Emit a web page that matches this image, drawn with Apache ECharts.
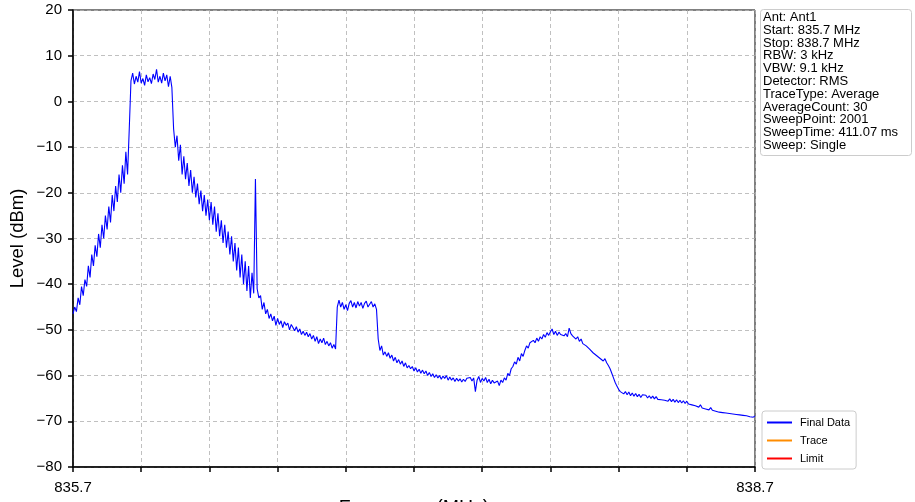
<!DOCTYPE html>
<html>
<head>
<meta charset="utf-8">
<script src="https://cdn.jsdelivr.net/npm/echarts@6/dist/echarts.min.js"></script>
<style>
html,body{margin:0;padding:0;background:#fff;}
#chart{width:915px;height:502px;}
</style>
</head>
<body>
<div id="chart"></div>
<script>
// Sweep definition
const START_MHZ = 835.7;
const STOP_MHZ = 838.7;
const STEP_MHZ = 0.0075;

// Level values (dBm), one per sweep step
const levelsRise = [-46.5,-45,-46,-43,-44.5,-40.5,-42.5,-39,-40.5,-36,-38.5,-33.5,-36,-31.5,-34,-29,-32,-27,-30,-25,-28,-23,-26.5,-20.5,-24,-18.5,-22,-16,-20,-14,-18,-11,-16,-6];
const levelsTop = [4.5,6.2,3.8,5.5,4.2,6.5,4.0,5.0,3.5,5.8,4.3,5.2,3.9,6.0,4.8,7.0,4.2,5.5,4.0,6.2,4.5,5.8,3.2,5.5,3.0];
const levelsFall = [-6,-10,-7.5,-13,-9.5,-16,-12,-17,-13.5,-18.5,-15,-20,-16.5,-21,-18,-22.5,-19.5,-24,-20.5,-25,-21.5,-26,-22,-27,-23,-28.5,-24.5,-29.5,-26,-31,-27,-32,-28.5,-33.5,-29.5,-35,-31,-37,-32,-38.5,-33.5,-40,-35,-41.5,-36,-43,-37.5,-42,-17,-41];
const levelsShoulder = [-43,-42.5,-45.5,-44,-46.5,-45.5,-47.5,-46.5,-48,-47,-49,-47.5,-48.8,-48,-49.5,-48.2,-49,-48.5,-50,-48.8,-49.5,-50.2,-49.3,-50.5,-49.8,-51,-50.3,-51.2,-50.5,-51.5,-50.8,-52,-51.2,-52.5,-51.5,-53,-52,-52.8,-51.8,-53.2,-52.5,-53.5,-52.8,-54,-53.2,-54.2];
const levelsCarrier2 = [-45,-43.5,-45,-44,-45.5,-44.5,-45.8,-44.2,-43.6,-45,-44,-45.2,-43.8,-44.8,-44,-45.3,-44.2,-43.7,-45,-44.4,-43.8,-45,-44.3,-45.5];
const levelsFloor = [-52,-54.5,-53.5,-55.5,-54.8,-55.8,-55,-56.2,-55.5,-56.8,-56,-57.2,-56.5,-57.5,-56.8,-58,-57.2,-58.3,-57.8,-58.5,-58,-59,-58.3,-59.2,-58.6,-59.5,-58.8,-59.6,-59,-60,-59.3,-60.2,-59.6,-60.4,-59.8,-60.5,-60,-60.8,-60.1,-60.6,-60,-61,-60.3,-61,-60.5,-61.3,-60.6,-61.2,-60.7,-61.4,-60.8,-61.3,-60.6,-61,-60.4,-61.2,-60.5,-63.5,-61,-60.2,-61.5,-60.6,-61.2,-60.4,-61.5,-60.8,-61.8,-61,-61.6,-62,-61.2,-62.2,-61,-61.5,-60.5,-61];
const levelsHump = [-59.5,-60,-58.5,-58,-57,-57.5,-56,-56.8,-55.2,-55.8,-54.5,-53.5,-54,-52.8,-53.2,-52.3,-52.8,-51.8,-52.5,-51.5,-52,-51,-51.6,-50.6,-51.2,-50.4,-49.8,-51,-50.3,-51.2,-50.5,-51,-50.6,-51.3,-50.8,-51.5,-49.6,-50.8,-51.3,-50.9,-52,-51.5,-52.5,-52,-53,-52.6,-53.5,-53.2,-54.2,-54,-55,-54.6,-55.6,-55.2,-56.2,-55.8,-56.8,-56.3,-57.2,-57.8,-58.5,-59.5];
const levelsTail = [-60.5,-61.5,-62.3,-63,-63.5,-63.2,-64,-63.5,-64.2,-63.6,-64.4,-63.8,-64.5,-63.9,-64.6,-64.1,-64.8,-64.2,-64.6,-64.3,-64.9,-64.4,-65,-64.5,-65.1,-64.6,-65.2,-64.8,-65.3,-64.9,-65.4,-65,-65.6,-65.1,-65.7,-65.2,-65.8,-65.3,-65.9,-65.4,-66,-65.5,-66.1,-65.6,-66.2,-65.8,-66.4,-66,-66.6,-66.2,-66.9,-66.4,-67.1,-66.7,-67.3,-66.9,-67.5,-67,-67.6,-67.2,-67.8,-67.4,-68,-67.6,-68.1,-67.7,-68.2,-67.8,-68.3,-67.9,-68.4,-68,-68.5,-68.1,-68.6,-68.2,-68.7,-68.3,-68.8,-68.5,-69,-68.6,-69.1,-68.8];

// Axis ticks
const yTicks = {min: -80, max: 20, interval: 10};
const xTicks = {min: START_MHZ, max: STOP_MHZ, interval: 0.3};

const infoLines = ['Ant: Ant1','Start: 835.7 MHz','Stop: 838.7 MHz','RBW: 3 kHz','VBW: 9.1 kHz','Detector: RMS','TraceType: Average','AverageCount: 30','SweepPoint: 2001','SweepTime: 411.07 ms','Sweep: Single'];
const legendNames = ['Final Data','Trace','Limit'];
const seriesColors = ['#0000ff','#ff8c00','#ff0000'];

const allLevels = [].concat(levelsRise, levelsTop, levelsFall, levelsShoulder, levelsCarrier2, levelsFloor, levelsHump, levelsTail);
const finalData = allLevels.map((v, i) => [+(START_MHZ + i * STEP_MHZ).toFixed(4), v]);

const FONT = 'Liberation Sans, Arial, sans-serif';
const chart = echarts.init(document.getElementById('chart'), null, {renderer: 'canvas'});
chart.setOption({
  animation: false,
  backgroundColor: '#ffffff',
  grid: {left: 73, right: 160, top: 10, bottom: 35, containLabel: false, outerBoundsMode: 'none', show: true, borderColor: '#000', borderWidth: 1, backgroundColor: 'transparent'},
  xAxis: {
    type: 'value', min: xTicks.min, max: xTicks.max, interval: xTicks.interval,
    name: 'Frequency (MHz)', nameLocation: 'middle', nameGap: 32, nameMoveOverlap: false,
    nameTextStyle: {fontFamily: FONT, fontSize: 19.5, color: '#000'},
    axisLine: {show: true, onZero: false, lineStyle: {color: '#000', width: 1.5}},
    axisTick: {show: true, length: 5, lineStyle: {color: '#000', width: 1.5}},
    axisLabel: {
      fontFamily: FONT, fontSize: 15, color: '#000', margin: 13, showMinLabel: true, showMaxLabel: true, hideOverlap: false,
      formatter: v => (Math.abs(v - START_MHZ) < 1e-6 || Math.abs(v - STOP_MHZ) < 1e-6) ? v.toFixed(1) : ''
    },
    splitLine: {show: true, lineStyle: {color: '#b0b0b0', type: [4, 3], width: 0.8}}
  },
  yAxis: {
    type: 'value', min: yTicks.min, max: yTicks.max, interval: yTicks.interval,
    name: 'Level (dBm)', nameLocation: 'middle', nameGap: 46, nameMoveOverlap: false,
    nameTextStyle: {fontFamily: FONT, fontSize: 18.5, color: '#000'},
    axisLine: {show: true, onZero: false, lineStyle: {color: '#000', width: 1.5}},
    axisTick: {show: true, length: 5, lineStyle: {color: '#000', width: 1.5}},
    axisLabel: {fontFamily: FONT, fontSize: 15, color: '#000', margin: 11, formatter: v => String(v).replace('-', '\u2212')},
    splitLine: {show: true, lineStyle: {color: '#b0b0b0', type: [4, 3], width: 0.8}}
  },
  legend: {
    orient: 'vertical', left: 762, top: 411, data: legendNames,
    icon: 'rect', itemWidth: 25, itemHeight: 2, itemGap: 7,
    padding: [6, 6, 5, 5],
    backgroundColor: '#fff', borderColor: '#cccccc', borderWidth: 1, borderRadius: 3,
    textStyle: {fontFamily: FONT, fontSize: 11, color: '#000', padding: [0, 0, 0, 3]}
  },
  graphic: [
    {type: 'rect', left: 760, top: 9, shape: {width: 151, height: 146, r: 3}, style: {fill: '#fff', stroke: '#cccccc', lineWidth: 1}},
    {type: 'text', left: 763, top: 11, style: {text: infoLines.join('\n'), font: '13px ' + FONT, fill: '#000', lineHeight: 12.8}}
  ],
  series: [
    {name: legendNames[0], type: 'line', data: finalData, showSymbol: false, symbol: 'none', lineStyle: {color: seriesColors[0], width: 1.1}, itemStyle: {color: seriesColors[0]}},
    {name: legendNames[1], type: 'line', data: [], showSymbol: false, symbol: 'none', lineStyle: {color: seriesColors[1], width: 1}, itemStyle: {color: seriesColors[1]}},
    {name: legendNames[2], type: 'line', data: [], showSymbol: false, symbol: 'none', lineStyle: {color: seriesColors[2], width: 1}, itemStyle: {color: seriesColors[2]}}
  ]
});
</script>
</body>
</html>
